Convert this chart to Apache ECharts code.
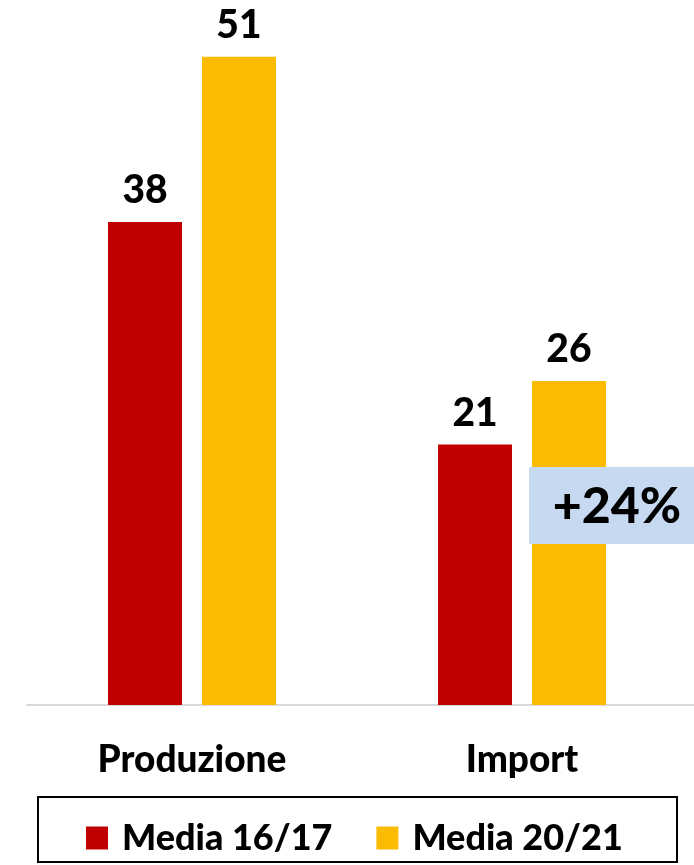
<!DOCTYPE html>
<html><head><meta charset="utf-8">
<script src="https://cdn.jsdelivr.net/npm/echarts@6/dist/echarts.min.js"></script>
<style>html,body{margin:0;padding:0;background:#fff}#c{width:694px;height:865px}</style>
</head><body><div id="c"></div>
<script>
const categories = ['Produzione', 'Import'];
const seriesNames = ['Media 16/17', 'Media 20/21'];
const media1617 = [38, 20.5];
const media2021 = [51, 25.5];
const changeLabel = '+24%';
const FONT = 'Lato';

const chart = echarts.init(document.getElementById('c'));
const labelCfg = {
  show: true, position: 'top', distance: 12,
  fontFamily: FONT, fontWeight: 900, fontSize: 39, color: '#000',
  formatter: p => Math.round(p.value)
};
chart.setOption({
  animation: false,
  grid: {left: 27, right: 7, top: 6, bottom: 160},
  xAxis: {
    type: 'category', data: categories,
    axisLine: {lineStyle: {color: '#d9d9d9', width: 2}},
    axisTick: {show: false},
    axisLabel: {fontFamily: FONT, fontWeight: 900, fontSize: 37, color: '#000', margin: 37}
  },
  yAxis: {type: 'value', min: 0, max: 55, show: false, splitLine: {show: false}},
  legend: {
    data: seriesNames, left: 86, top: 820, padding: 0,
    itemWidth: 22, itemHeight: 23, itemGap: 44,
    icon: 'rect',
    textStyle: {fontFamily: FONT, fontWeight: 900, fontSize: 36, color: '#000', padding: [0, 0, 0, 9]}
  },
  graphic: [
    {type: 'line', shape: {x1: 687, y1: 705, x2: 694, y2: 705},
     style: {stroke: '#d9d9d9', lineWidth: 2}},
    {type: 'rect', shape: {x: 38, y: 797, width: 639, height: 65},
     style: {fill: 'none', stroke: '#000', lineWidth: 2}},
    {type: 'rect', shape: {x: 529, y: 467, width: 165, height: 77}, z: 10,
     style: {fill: '#c6d9f0'}},
    {type: 'text', x: 617, y: 507, z: 11,
     style: {text: changeLabel, fontFamily: FONT, fontWeight: 900, fontSize: 50, fill: '#000',
             align: 'center', verticalAlign: 'middle'}}
  ],
  series: [
    {name: seriesNames[0], type: 'bar', data: media1617, barWidth: 74, barGap: '27%',
     itemStyle: {color: '#c00000'}, label: labelCfg},
    {name: seriesNames[1], type: 'bar', data: media2021, barWidth: 74,
     itemStyle: {color: '#fabb00'}, label: labelCfg}
  ]
});
</script></body></html>
